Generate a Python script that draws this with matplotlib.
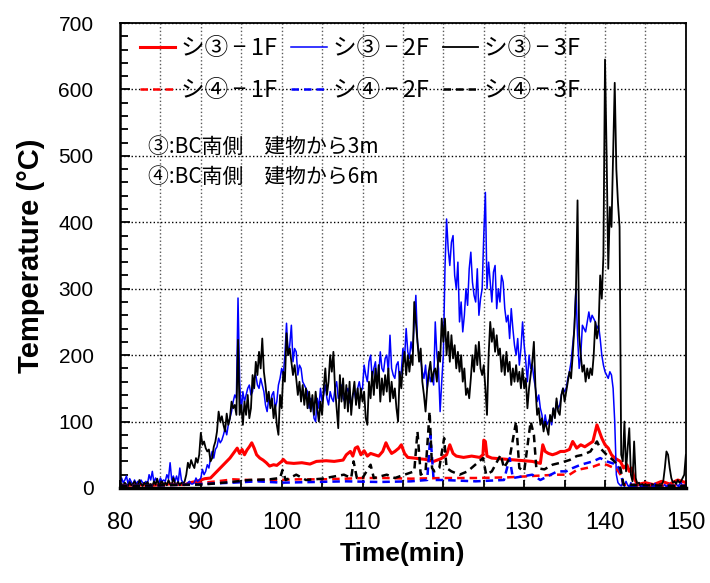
import numpy as np
import matplotlib
matplotlib.use("Agg")
import matplotlib.pyplot as plt
from matplotlib.ticker import MultipleLocator

plt.rcParams['font.family'] = ['Liberation Sans', 'Noto Sans CJK JP', 'DejaVu Sans']
JP = ['Noto Sans CJK JP', 'DejaVu Sans']

# ---- data (time in min, temperature in degC) ----
# logger for the 2F / 3F channels: one reading every 0.2 min, 80 - 150 min
t_fast = np.round(80 + 0.2 * np.arange(351), 1)

# シ③-3F (black solid), one row = 5 min
v_3_3F = [
    3, 6, 4, 8, 5, 3, 9, 4, 6, 10, 5, 4, 12, 6, 3, 8, 5, 9, 4, 6, 3, 10, 5, 14, 4,
    6, 10, 5, 8, 4, 12, 6, 5, 15, 7, 6, 9, 4, 8, 6, 10, 20, 38, 30, 42, 35, 30, 45, 38, 50,
    83, 65, 70, 60, 55, 58, 40, 45, 62, 70, 85, 115, 100, 108, 95, 85, 112, 95, 105, 130, 120, 125, 110, 223, 110,
    125, 95, 130, 110, 140, 105, 120, 170, 150, 190, 170, 205, 180, 225, 175, 155, 130, 145, 120, 135, 105, 125, 95, 80, 140,
    120, 175, 160, 233, 200, 210, 190, 170, 185, 165, 140, 160, 130, 155, 125, 150, 120, 145, 115, 140, 110, 145, 120, 100, 130,
    110, 150, 180, 140, 160, 200, 175, 205, 150, 120, 90, 170, 130, 165, 120, 155, 115, 160, 110, 140, 160, 125, 150, 120, 150,
    130, 145, 105, 95, 160, 135, 175, 140, 180, 150, 185, 130, 165, 140, 170, 145, 180, 130, 160, 135, 150, 120, 100, 175, 150,
    185, 205, 170, 200, 175, 200, 185, 280, 250, 220, 190, 210, 160, 140, 115, 150, 175, 190, 160, 175, 180, 160, 205, 190, 255,
    220, 255, 200, 235, 190, 230, 195, 215, 180, 205, 175, 200, 160, 180, 140, 150, 135, 165, 200, 175, 215, 185, 220, 180, 170,
    185, 150, 110, 200, 250, 220, 240, 205, 230, 200, 210, 175, 200, 170, 205, 175, 190, 155, 180, 160, 185, 160, 175, 150, 180,
    150, 165, 120, 150, 170, 190, 220, 150, 110, 120, 95, 105, 85, 100, 90, 80, 110, 100, 120, 105, 135, 115, 110, 140, 150,
    130, 145, 160, 175, 165, 200, 240, 295, 433, 230, 200, 175, 185, 160, 180, 165, 180, 170, 200, 250, 225, 240, 320, 285, 350,
    645, 500, 330, 423, 393, 504, 610, 480, 430, 393, 50, 40, 100, 25, 60, 90, 20, 10, 70, 15, 5, 8, 3, 6, 3,
    6, 3, 5, 3, 6, 4, 3, 5, 4, 6, 5, 10, 30, 55, 50, 30, 15, 8, 10, 6, 12, 8, 10, 15, 20,
    50]

# シ③-2F (blue solid)
v_3_2F = [
    5, 15, 8, 12, 18, 6, 14, 9, 5, 12, 6, 10, 5, 12, 8, 6, 10, 6, 20, 12, 25, 8, 15, 10, 8,
    15, 10, 12, 10, 20, 14, 38, 12, 18, 10, 18, 8, 30, 12, 8, 6, 5, 8, 10, 6, 6, 8, 15, 10, 12,
    15, 28, 20, 25, 35, 30, 45, 55, 45, 58, 62, 75, 68, 72, 80, 90, 80, 95, 105, 115, 130, 140, 135, 286, 160,
    115, 145, 130, 140, 150, 155, 140, 145, 165, 170, 155, 150, 165, 155, 145, 125, 115, 135, 125, 140, 145, 120, 130, 155, 165,
    180, 170, 200, 248, 200, 215, 245, 190, 210, 205, 170, 185, 180, 160, 155, 150, 145, 120, 135, 130, 105, 100, 135, 120, 150,
    130, 140, 155, 135, 125, 145, 135, 130, 150, 160, 135, 140, 155, 135, 130, 145, 150, 130, 125, 140, 145, 130, 150, 160, 145,
    150, 185, 170, 160, 190, 200, 165, 180, 190, 160, 170, 205, 180, 175, 195, 200, 175, 230, 180, 170, 165, 185, 190, 160, 175,
    210, 195, 240, 205, 195, 220, 205, 250, 290, 220, 200, 195, 175, 165, 185, 150, 175, 160, 170, 155, 250, 200, 180, 115, 160,
    200, 330, 405, 360, 335, 370, 380, 320, 300, 340, 250, 280, 235, 260, 300, 275, 330, 355, 310, 290, 280, 330, 260, 285, 300,
    380, 445, 300, 340, 310, 280, 325, 335, 270, 300, 280, 320, 310, 270, 250, 260, 225, 270, 240, 215, 200, 225, 185, 210, 250,
    215, 190, 160, 200, 180, 185, 165, 150, 130, 140, 120, 110, 90, 110, 95, 100, 105, 95, 120, 110, 130, 120, 125, 140, 150,
    145, 150, 165, 175, 190, 215, 240, 300, 230, 180, 200, 245, 240, 235, 250, 265, 250, 260, 255, 250, 240, 245, 225, 200, 185,
    175, 170, 165, 175, 170, 150, 100, 20, 8, 5, 3, 8, 2, 10, 4, 2, 8, 3, 6, 2, 3, 6, 2, 5, 3,
    2, 5, 3, 6, 2, 4, 7, 3, 5, 2, 6, 3, 5, 2, 4, 6, 3, 5, 2, 6, 3, 5, 8, 3, 5,
    3]

# シ③-1F (red solid)
t_3_1F = [80, 82, 84, 86, 88, 88.7, 89.5, 90.5, 91.2, 92.0, 92.8, 93.6, 94.2, 94.5, 94.8,
          95.1, 95.4, 95.7, 96.0, 96.3, 96.6, 96.9, 97.3, 97.7, 98.1, 98.5, 99.0, 99.4,
          100.0, 100.2, 100.6, 101.5, 102.5, 103.5, 104.3, 105.5, 106.5, 107.6, 108.0,
          108.5, 108.8, 109.1, 109.4, 109.8, 110.2, 110.6, 111.0, 111.5, 112.0, 112.5,
          112.9, 113.2, 113.6, 114.0, 114.5, 114.8, 115.2, 115.6, 116.4, 117.0, 117.8,
          118.8, 119.7, 120.4, 120.8, 121.2, 121.6, 122.5, 123.5, 124.5, 124.9, 125.0,
          125.2, 125.4, 126.0, 127.0, 128.0, 129.0, 130.0, 131.0, 132.0, 132.3, 132.6,
          133.0, 133.5, 134.0, 134.5, 135.0, 135.6, 136.0, 136.5, 137.0, 137.5, 138.0,
          138.5, 139.0, 139.3, 139.6, 140.0, 140.4, 140.8, 141.2, 141.9, 142.3, 142.7,
          143.0, 143.3, 143.6, 144.0, 145.0, 146.0, 147.0, 148.0, 149.0, 150.0]
v_3_1F = [3, 5, 4, 6, 5, 8, 10, 14, 15, 25, 35, 45, 55, 60, 52,
          58, 50, 57, 62, 68, 60, 50, 45, 42, 38, 33, 35, 34,
          40, 43, 38, 37, 38, 36, 40, 41, 40, 42, 50,
          55, 48, 60, 62, 50, 56, 48, 52, 50, 48, 55,
          68, 60, 52, 55, 60, 65, 52, 46, 45, 44, 43,
          40, 44, 50, 65, 52, 48, 46, 48, 46, 50, 72,
          70, 48, 45, 44, 43, 42, 41, 40, 37, 65, 55,
          52, 50, 52, 55, 55, 58, 70, 60, 65, 62, 66,
          70, 95, 85, 75, 65, 60, 50, 45, 40, 30, 35,
          25, 30, 15, 5, 8, 5, 10, 6, 12, 8]

# シ④-1F (red dashed)
t_4_1F = [80, 85, 88, 90.3, 92, 94, 96, 99.4, 102, 105, 108, 110, 113, 116, 120, 124,
          128, 131, 134, 135.6, 136.5, 138.5, 139.4, 140.2, 141.5, 141.9, 142.3, 145, 150]
v_4_1F = [3, 4, 5, 8, 10, 13, 12, 12, 13, 13, 14, 15, 15, 14, 15, 15,
          16, 18, 20, 20, 27, 32, 36, 35, 28, 20, 5, 4, 3]

# シ④-2F (blue dashed)
t_4_2F = [80, 85, 88, 90, 94, 97, 100, 104, 108, 112, 116, 118.0, 118.4, 118.8, 120, 124,
          127.5, 128.2, 128.6, 131, 132, 134.1, 135.2, 136, 137, 138.5, 139.4, 140.2,
          141.5, 141.9, 142.3, 145, 150]
v_4_2F = [3, 4, 5, 6, 8, 10, 8, 9, 10, 9, 10, 12, 80, 12, 12, 10,
          12, 45, 15, 20, 12, 25, 25, 30, 35, 40, 45, 40,
          35, 25, 3, 2, 2]

# シ④-3F (black dashed)
t_4_3F = [80, 85, 88, 90, 92, 94.5, 96, 98.5, 99.8, 100.1, 100.5, 101.8, 103, 105, 107.7,
          108.6, 108.9, 109.3, 110, 111, 111.4, 113, 114, 116.4, 116.8, 117.2, 117.8,
          118.3, 118.6, 118.9, 119.5, 120.1, 120.4, 121, 122, 123, 124.9, 125.3, 126,
          127.1, 127.5, 128.2, 129.0, 129.4, 130, 130.8, 131.2, 131.5, 132.5, 133.5,
          134.5, 135.6, 136.5, 137.3, 138.2, 139.0, 139.4, 140.2, 141.0, 141.9, 142.3,
          145, 150]
v_4_3F = [3, 4, 5, 5, 7, 10, 12, 13, 15, 27, 12, 20, 12, 14, 20,
          15, 40, 15, 15, 35, 15, 20, 15, 25, 85, 20, 25,
          115, 30, 25, 30, 75, 30, 25, 20, 25, 45, 20, 25,
          50, 30, 45, 100, 30, 25, 100, 80, 30, 28, 35,
          38, 42, 48, 50, 55, 70, 60, 50, 42, 30, 5,
          4, 3]

labels = ['シ③\u2009−\u20091F', 'シ③\u2009−\u20092F', 'シ③\u2009−\u20093F',
          'シ④\u2009−\u20091F', 'シ④\u2009−\u20092F', 'シ④\u2009−\u20093F']
notes = ['③:BC南側\u3000建物から3m', '④:BC南側\u3000建物から6m']

fig = plt.figure(figsize=(7.10, 5.83), dpi=100)
ax = fig.add_axes([0.169, 0.163, 0.797, 0.7975])

l1, = ax.plot(t_3_1F, v_3_1F, color='#ff0000', lw=2.2, label=labels[0])
l2, = ax.plot(t_fast, v_3_2F, color='#0000ff', lw=1.1, label=labels[1])
l3, = ax.plot(t_fast, v_3_3F, color='black', lw=1.3, label=labels[2])
l4, = ax.plot(t_4_1F, v_4_1F, color='#ff0000', lw=1.8, ls=(0, (3, 2)), label=labels[3])
l5, = ax.plot(t_4_2F, v_4_2F, color='#0000ff', lw=1.8, ls=(0, (3, 2)), label=labels[4])
l6, = ax.plot(t_4_3F, v_4_3F, color='black', lw=1.8, ls=(0, (3, 2)), label=labels[5])

ax.set_xlim(80, 150)
ax.set_ylim(0, 700)
ax.xaxis.set_major_locator(MultipleLocator(10))
ax.xaxis.set_minor_locator(MultipleLocator(5))
ax.yaxis.set_major_locator(MultipleLocator(100))
ax.yaxis.set_minor_locator(MultipleLocator(20))

ax.grid(True, which='major', axis='y', ls=':', color='black', lw=1)
ax.grid(True, which='both', axis='x', ls=':', color='0.35', lw=1)

ax.tick_params(axis='both', which='both', direction='in', top=False, right=False)
ax.tick_params(axis='y', which='major', length=7, width=1.3, labelsize=15, pad=19)
ax.tick_params(axis='y', which='minor', length=5.5, width=1.3)
ax.tick_params(axis='x', which='both', length=6, width=1.3, labelsize=17, pad=17)

for s in ax.spines.values():
    s.set_linewidth(1.3)
ax.spines['bottom'].set_linewidth(2.5)
ax.spines['left'].set_linewidth(1.8)

ax.set_xlabel('Time(min)', fontsize=19, fontweight='bold', labelpad=6)
ax.set_ylabel('Temperature (°C)', fontsize=21, fontweight='bold', labelpad=10)

# legend fills column by column, so interleave to get rows ③ / ④
leg = ax.legend(handles=[l1, l4, l2, l5, l3, l6], ncol=3, loc='upper left',
                bbox_to_anchor=(0.01, 1.0), frameon=False, prop={'family': JP, 'size': 17},
                handlelength=1.5, handletextpad=0.25, columnspacing=0.6, labelspacing=0.8,
                borderaxespad=0.2)

ax.text(0.049, 0.733, notes[0], transform=ax.transAxes, family=JP, fontsize=15, va='center')
ax.text(0.049, 0.669, notes[1], transform=ax.transAxes, family=JP, fontsize=15, va='center')

fig.savefig('out.png', dpi=100)
